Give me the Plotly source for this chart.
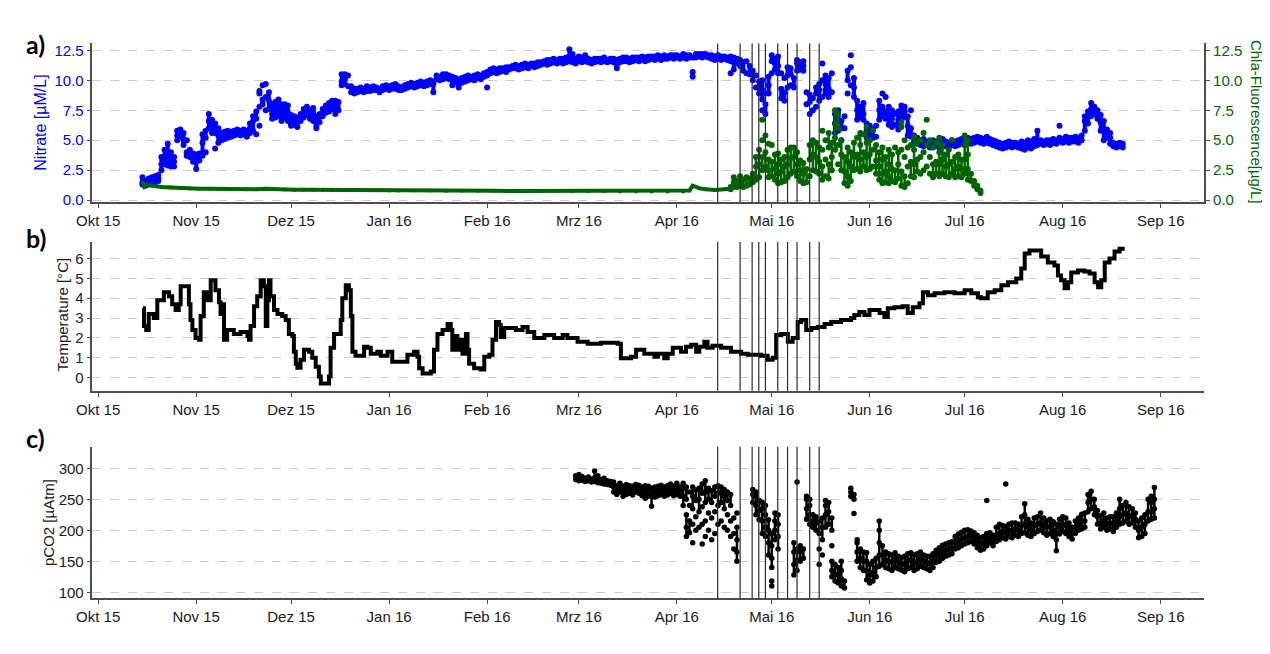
import pandas as pd
import plotly.graph_objects as go

START = pd.Timestamp("2015-10-01")

month_ticks = ["2015-10-01", "2015-11-01", "2015-12-01", "2016-01-01", "2016-02-01", "2016-03-01",
               "2016-04-01", "2016-05-01", "2016-06-01", "2016-07-01", "2016-08-01", "2016-09-01"]
month_labels = ["Okt 15", "Nov 15", "Dez 15", "Jan 16", "Feb 16", "Mrz 16",
                "Apr 16", "Mai 16", "Jun 16", "Jul 16", "Aug 16", "Sep 16"]

# days counted from 2015-10-01; one list of readings per day
nitrate_first_day = 14
nitrate_daily = [
    [1.3, 1.9, 1.5], [1.2, 1.6], [1.3, 1.8], [1.4, 1.9], [1.5, 2.0], [1.6, 2.1, 1.8], [2.5, 3.6, 3.0], [3.0, 4.2, 3.5], [3.5, 4.7, 4.0, 2.9], [3.2, 4.0, 2.8],
    [2.8, 3.6, 3.2], [5.0, 5.8, 5.4], [5.3, 5.9, 5.6], [4.6, 5.6, 5.0], [4.0, 5.0, 3.7], [3.6, 4.2], [3.2, 3.9, 3.5], [3.2, 3.8, 2.6], [3.3, 3.9], [3.9, 4.8, 5.5, 3.7],
    [5.2, 5.8, 4.0], [6.0, 7.2, 6.6], [5.6, 6.7, 6.3], [4.3, 5.6, 6.4], [4.8, 5.4, 6.0], [5.0, 5.6], [5.1, 5.7], [5.2, 5.8], [5.3, 5.7], [5.4, 5.8],
    [5.5, 5.9], [5.4, 5.8], [5.5, 5.9], [5.4, 5.8, 5.3], [5.6, 6.0, 6.4], [6.6, 7.0, 5.8], [6.8, 7.4, 5.5], [7.8, 8.9, 9.1, 6.2], [8.4, 9.6, 8.0], [8.6, 9.7, 7.5],
    [7.6, 8.3, 9.0], [7.2, 8.0, 6.8], [7.4, 8.2, 6.9], [7.0, 7.8, 8.4], [7.2, 8.0, 6.6], [6.9, 7.6, 8.0], [6.6, 7.3, 7.9], [6.4, 7.1, 6.2], [6.3, 7.0], [6.5, 6.9, 6.1],
    [6.6, 7.2], [6.9, 7.6], [7.1, 7.8], [6.8, 7.5], [6.6, 7.3, 7.7], [6.2, 7.0, 6.0], [6.5, 7.2], [7.0, 7.6], [7.3, 7.9], [7.4, 8.1],
    [7.6, 8.3], [7.2, 8.0, 8.3], [7.5, 8.2], [9.6, 10.5, 9.9], [10.1, 10.5, 9.7], [9.5, 10.4], [9.0, 9.5], [8.9, 9.3], [9.0, 9.3], [9.1, 9.4],
    [9.0, 9.3], [9.1, 9.5], [9.1, 9.4], [9.2, 9.5], [9.2, 9.4], [9.0, 9.3], [9.2, 9.5], [9.3, 9.6], [9.2, 9.5], [9.3, 9.6],
    [9.3, 9.7], [9.2, 9.5], [9.2, 9.4], [9.3, 9.6], [9.4, 9.7], [9.5, 9.8], [9.4, 9.7], [9.5, 9.8], [9.6, 9.9], [9.5, 9.8],
    [9.6, 9.9], [9.7, 10.0], [9.0, 9.9, 9.7], [10.1, 10.4], [10.0, 10.3], [10.1, 10.5], [10.2, 10.5], [10.1, 10.4], [10.0, 10.3, 9.6], [9.8, 10.2],
    [9.7, 10.1, 9.4], [9.8, 10.2], [9.9, 10.3], [10.0, 10.4], [10.1, 10.3], [10.0, 10.4], [10.2, 10.5], [10.1, 10.4], [10.3, 10.6], [10.4, 10.7, 9.4],
    [10.6, 10.9], [10.7, 11.0], [10.6, 10.9], [10.7, 11.0], [10.8, 11.0], [10.7, 11.1], [10.9, 11.1], [11.0, 11.2], [11.0, 11.3], [10.9, 11.2],
    [11.0, 11.3], [11.1, 11.4], [11.0, 11.3], [11.2, 11.4], [11.1, 11.4], [11.2, 11.5], [11.3, 11.5], [11.4, 11.6], [11.3, 11.7], [11.4, 11.7],
    [11.5, 11.8], [11.4, 11.7], [11.5, 11.8], [11.4, 11.8], [11.5, 11.9], [11.6, 12.0, 12.6], [11.5, 11.9, 12.2], [11.4, 11.8], [11.6, 12.0], [11.5, 11.9],
    [11.6, 12.1], [11.5, 11.8], [11.4, 11.7], [11.5, 11.8], [11.6, 11.8], [11.5, 11.8], [11.6, 11.9], [11.5, 11.7], [11.6, 11.8], [11.5, 11.8],
    [11.3, 11.7, 11.0], [11.5, 11.8], [11.6, 11.9], [11.6, 11.9], [11.5, 11.8], [11.6, 11.9], [11.7, 11.9], [11.6, 11.9], [11.7, 12.0], [11.6, 11.9],
    [11.7, 12.0], [11.8, 12.0], [11.7, 12.0], [11.8, 12.1], [11.7, 12.0], [11.8, 12.1], [11.8, 12.0], [11.9, 12.1], [11.8, 12.1], [11.9, 12.1],
    [11.8, 12.0], [11.9, 12.2], [11.8, 12.1], [11.9, 12.1], [10.3, 10.7, 11.9], [11.9, 12.2], [12.0, 12.2], [11.9, 12.2], [12.0, 12.2], [11.9, 12.1],
    [11.8, 12.1], [11.7, 12.0], [11.8, 12.1], [11.7, 12.0], [11.8, 12.0], [11.7, 11.9], [11.6, 12.0, 10.6], [11.5, 11.9, 10.9], [11.4, 11.8], [11.2, 11.7],
    [10.8, 11.5], [10.6, 11.6], [10.5, 11.2], [10.0, 10.8], [9.4, 10.4], [8.9, 9.9, 9.5], [7.5, 8.4, 9.2, 10.0], [7.2, 8.0, 8.9], [8.9, 9.6, 10.3], [10.6, 11.6, 12.1],
    [10.9, 11.8, 11.4], [10.6, 11.2, 12.0], [8.5, 9.3, 10.6], [8.3, 9.0, 10.2], [9.4, 10.4, 11.1], [9.6, 10.5, 11.0], [9.4, 10.2], [10.8, 11.4, 11.7], [10.9, 11.5], [10.8, 11.2, 11.6],
    [8.0, 9.0], [7.2, 8.2, 8.8], [7.5, 8.5], [7.8, 8.9, 9.4], [8.3, 9.2, 9.7], [8.6, 10.0, 11.4], [8.9, 9.7, 10.4, 9.2], [8.6, 9.3, 10.2], [9.0, 10.6], [5.6, 6.4, 7.2],
    [5.8, 6.8, 7.5], [5.0, 6.0, 6.6], [6.0, 7.0], [8.9, 10.0, 10.8], [9.6, 11.1, 12.1], [8.6, 9.4, 10.2], [6.7, 7.5, 8.3], [6.9, 7.8], [6.7, 7.2, 8.1], [5.2, 5.8, 6.4],
    [5.0, 5.6, 6.2], [5.2, 5.9], [5.3, 6.2], [6.7, 7.5, 8.3], [7.0, 7.8, 8.9], [6.8, 7.4, 8.6], [6.3, 7.0, 7.8], [6.1, 6.8, 7.5], [6.3, 7.2], [5.9, 6.7, 7.4],
    [7.0, 7.6, 7.9], [6.9, 7.4, 7.8], [5.4, 6.2, 7.0], [5.3, 6.0, 7.5], [4.9, 5.4], [4.7, 5.2], [4.6, 5.0], [4.5, 5.1], [4.6, 4.9], [4.4, 4.8],
    [4.6, 5.0], [4.5, 4.9], [4.4, 4.8], [4.6, 5.1], [4.5, 4.9], [4.4, 4.8], [4.6, 5.0], [4.5, 4.9], [4.6, 5.0], [4.7, 5.1],
    [4.6, 5.0], [4.8, 5.2], [4.7, 5.1], [4.8, 5.2], [4.9, 5.3], [4.8, 5.2], [4.7, 5.1], [4.8, 5.3], [4.7, 5.1], [4.6, 5.0],
    [4.5, 4.9], [4.4, 4.8], [4.3, 4.7], [4.4, 4.8], [4.5, 4.9], [4.4, 4.8], [4.5, 4.8], [4.4, 4.7], [4.3, 4.9], [4.2, 4.8],
    [4.4, 5.0], [4.3, 4.9], [4.5, 5.1], [4.6, 5.0, 5.8], [4.7, 5.0], [4.6, 4.9], [4.7, 5.0], [4.6, 5.0], [4.8, 5.1], [4.7, 5.0],
    [4.9, 5.2, 6.2], [4.8, 5.1], [4.9, 5.3], [4.8, 5.2], [4.9, 5.2], [4.9, 5.3], [4.8, 5.2], [5.0, 5.4], [5.8, 6.6, 7.0], [6.4, 7.0, 7.4],
    [7.0, 7.6, 8.1], [7.2, 7.8], [6.8, 7.5, 7.2], [5.8, 6.5, 7.1], [5.0, 5.8, 6.6], [5.2, 5.9], [4.7, 5.2, 5.6], [4.5, 4.8], [4.4, 4.7], [4.5, 4.8],
    [4.4, 4.7],
]

chla_base_day = [14, 14.5, 15, 17, 20, 23, 26, 29, 32, 35, 38, 41, 44, 47, 50, 53, 56, 59, 62, 65, 68, 71, 74, 77,
                 80, 83, 86, 89, 92, 95, 100, 105, 110, 115, 120, 125, 130, 135, 140, 145, 150, 155, 160, 165,
                 170, 175, 180, 185, 187, 188, 190, 192, 195, 198, 200]
chla_base_val = [1.45, 1.15, 1.3, 1.2, 1.1, 1.05, 1.0, 0.98, 0.95, 0.95, 0.93, 0.92, 0.92, 0.9, 0.9, 0.95, 0.9, 0.88,
                 0.87, 0.86, 0.86, 0.85, 0.85, 0.84, 0.83, 0.83, 0.82, 0.82, 0.81, 0.8, 0.8, 0.8, 0.79, 0.79, 0.78,
                 0.78, 0.77, 0.77, 0.76, 0.76, 0.75, 0.74, 0.74, 0.73, 0.72, 0.72, 0.72, 0.73, 0.8, 1.2, 1.0, 0.9,
                 0.85, 0.9, 0.95]

chla_first_day = 200
chla_daily = [
    [0.9, 1.1], [1.1, 1.9, 1.5], [1.1, 1.6], [1.2, 2.0, 1.5], [1.1, 1.7], [1.2, 1.9], [1.3, 1.8], [1.5, 2.2, 1.8], [1.7, 2.8, 3.6], [1.9, 3.0, 4.2],
    [2.5, 3.6, 5.0, 6.7], [2.8, 4.0, 5.4], [2.5, 3.4, 4.7, 1.9], [2.0, 3.2, 4.6], [1.7, 2.6, 3.8], [1.4, 2.2, 3.0, 3.9], [1.5, 2.4, 3.4], [1.6, 2.8, 3.6], [1.9, 3.0, 4.2], [2.2, 3.5, 4.4],
    [2.4, 3.6, 4.4], [2.0, 3.0, 4.0], [1.6, 2.5, 3.3], [1.4, 2.2, 3.1], [1.5, 2.6], [2.0, 3.4, 4.6], [2.5, 3.8, 5.0], [2.4, 3.6, 4.8], [2.2, 3.2, 4.4], [1.7, 2.8, 4.2, 5.8],
    [2.0, 3.4, 5.0], [1.8, 3.0, 4.4, 5.6], [2.5, 3.6, 4.8], [4.2, 5.2, 6.4, 7.5], [3.0, 4.6, 6.0, 7.2], [2.5, 3.8, 5.0], [1.4, 2.4, 3.6], [1.2, 2.0, 3.2, 4.4], [1.6, 2.8, 4.0], [2.5, 3.6, 4.8],
    [2.6, 3.8, 5.2], [2.4, 3.4, 4.6, 5.6], [2.8, 4.0, 5.5], [2.5, 3.6, 4.8, 6.1], [2.6, 3.8, 5.0], [2.8, 4.2, 5.8], [2.2, 3.3, 4.6], [1.7, 2.8, 4.0], [1.4, 2.2, 3.4, 4.4], [1.5, 2.4, 3.6],
    [1.4, 2.0, 3.0, 4.2], [1.6, 2.6, 3.8], [1.5, 2.5, 4.4], [1.8, 3.0, 4.0], [1.2, 2.4, 4.2, 6.1, 6.5], [1.1, 2.0, 3.6, 5.0], [1.4, 2.8, 4.4], [2.0, 3.2, 4.6], [1.9, 3.0, 4.2, 5.3], [2.4, 3.4, 4.8],
    [2.2, 3.6, 5.0], [2.5, 4.0, 5.6], [2.8, 4.6, 6.7], [2.2, 3.6, 5.0], [1.9, 3.0, 4.4], [2.2, 3.2, 4.8], [2.0, 3.0, 4.0, 5.2], [2.2, 3.4, 4.6], [2.0, 2.8, 3.8], [1.9, 3.0, 4.2],
    [2.2, 3.2, 5.0], [1.9, 2.6, 3.6], [2.0, 2.8, 3.8], [1.9, 2.6, 3.4], [2.2, 3.4, 4.6, 5.4], [1.7, 2.6, 3.8, 5.0], [1.6, 2.2], [1.2, 1.6], [0.9, 1.2], [0.6, 0.8],
]

temp_day = [14.2, 14.5, 15.2, 16.0, 17.6, 18.7, 20.8, 22.4, 23.4, 24.5, 25.5, 26.1, 27.6, 28.7, 29.2, 29.8, 30.8, 31.9,
            32.4, 33.4, 34.5, 35.6, 36.6, 37.1, 38.2, 38.7, 39.2, 39.8, 40.8, 41.9, 42.9, 45.0, 47.2, 47.7, 48.2, 49.3,
            50.3, 51.4, 52.4, 53.0, 53.5, 54.0, 54.5, 55.6, 56.7, 58.2, 59.3, 60.3, 61.4, 61.9, 62.5, 63.0, 64.0, 65.1,
            66.7, 67.7, 68.8, 69.8, 70.4, 72.0, 73.0, 73.5, 74.6, 76.2, 76.7, 77.2, 78.3, 79.3, 79.9, 80.4, 81.4, 83.0,
            84.1, 85.1, 86.2, 88.3, 89.4, 91.5, 93.0, 95.7, 97.8, 99.9, 101.0, 101.5, 102.6, 105.2, 106.2, 107.3, 108.9,
            110.5, 111.5, 112.0, 112.6, 113.6, 114.7, 115.2, 116.3, 116.8, 117.3, 118.9, 121.0, 122.1, 123.7, 124.7,
            125.8, 126.8, 127.3, 128.4, 130.5, 132.1, 134.2, 135.8, 137.9, 141.1, 144.2, 146.9, 148.4, 151.6, 154.8,
            159.0, 164.3, 165.3, 168.5, 170.1, 172.7, 175.9, 177.0, 179.0, 180.1, 181.7, 184.3, 185.9, 187.5, 189.1,
            190.1, 191.7, 192.7, 194.3, 197.0, 200.1, 203.3, 205.4, 209.6, 211.7, 213.3, 214.4, 216.0, 218.1, 219.6,
            221.2, 222.3, 223.9, 225.5, 227.6, 229.7, 231.8, 234.9, 238.1, 239.1, 240.7, 242.3, 243.9, 245.5, 247.1,
            248.6, 249.7, 251.8, 254.4, 256.0, 257.6, 259.7, 260.8, 262.4, 264.5, 267.6, 270.8, 274.0, 276.1, 278.2,
            279.2, 281.3, 283.5, 285.6, 287.7, 290.3, 291.9, 293.0, 294.5, 296.6, 298.2, 300.3, 302.4, 303.5, 304.5,
            305.6, 306.7, 307.7, 309.8, 311.9, 313.5, 315.1, 316.2, 317.2, 318.3, 319.8, 321.4, 323.0, 324.6]
temp_val = [3.5, 2.6, 2.4, 3.2, 3.0, 3.9, 4.3, 4.1, 3.7, 3.4, 3.7, 4.6, 4.6, 3.7, 2.9, 2.4, 2.0, 1.9,
            3.1, 4.3, 3.9, 4.9, 4.9, 4.4, 3.8, 3.2, 3.7, 1.9, 2.4, 2.4, 2.2, 2.3, 2.1, 1.9, 2.6, 3.6,
            4.1, 4.9, 4.6, 2.6, 3.9, 4.9, 4.1, 3.4, 3.2, 3.1, 2.9, 2.2, 2.1, 1.3, 0.7, 0.5, 0.9, 1.4,
            1.3, 1.0, 0.55, 0.05, -0.3, -0.3, 0.05, 1.5, 2.2, 2.2, 2.9, 4.0, 4.65, 4.4, 3.1, 1.3, 1.1, 1.1,
            1.55, 1.5, 1.2, 1.3, 1.1, 1.3, 0.8, 0.8, 1.15, 1.3, 1.05, 0.47, 0.2, 0.3, 1.4, 2.2, 2.4,
            2.7, 2.4, 1.4, 2.1, 1.4, 1.9, 1.2, 2.2, 1.4, 0.7, 0.47, 0.4, 1.05, 1.15, 1.9,
            2.8, 2.65, 2.05, 2.5, 2.5, 2.4, 2.55, 2.3, 2.0, 2.15, 2.0, 2.15, 2.0, 1.8, 1.7,
            1.75, 1.7, 0.97, 1.05, 1.4, 1.2, 1.05, 1.2, 0.97, 1.2, 1.5, 1.3, 1.55, 1.65, 1.3,
            1.55, 1.8, 1.5, 1.6, 1.5, 1.3, 1.2, 1.15, 1.1, 0.9, 1.0, 2.15, 2.2, 1.8, 2.0,
            2.8, 2.9, 2.4, 2.5, 2.55, 2.7, 2.8, 2.9, 3.0, 3.15, 3.3, 3.15, 3.4, 3.4, 3.25,
            3.05, 3.5, 3.55, 3.6, 3.25, 3.55, 3.75, 4.3, 4.15, 4.25, 4.3, 4.25, 4.4, 4.25, 4.05,
            4.0, 4.3, 4.4, 4.65, 4.8, 5.0, 5.5, 6.25, 6.4, 6.4, 6.1, 5.8, 5.65, 5.15, 4.9,
            4.5, 4.8, 5.3, 5.4, 5.35, 5.25, 4.8, 4.55, 4.9, 5.8, 6.0, 6.35, 6.5, 6.5]

pco2_first_day = 151
pco2_daily = [
    [282, 288], [280, 286, 290], [281, 287], [279, 284], [280, 286], [278, 283], [279, 285, 296], [277, 283, 288], [276, 282], [275, 281, 284],
    [274, 280], [273, 279], [270, 278, 262], [265, 272, 258], [262, 270, 276], [255, 264, 271], [258, 268, 274], [260, 266, 272], [257, 265, 271], [262, 268, 274],
    [260, 267, 273], [256, 264, 270], [252, 262, 272], [255, 265, 271], [239, 258, 268], [254, 262, 270], [256, 264, 271], [258, 266, 273], [255, 263, 270], [257, 265, 272],
    [260, 268, 275], [256, 264, 271], [258, 267, 276], [255, 263, 270], [240, 255, 268, 276], [190, 205, 225, 250, 270], [196, 215, 240, 262], [180, 210, 235, 255, 270], [200, 222, 248, 265], [205, 230, 250, 268],
    [178, 210, 238, 260, 275], [190, 215, 245, 262, 280], [200, 228, 250, 268], [185, 220, 245, 264], [195, 230, 255, 270], [210, 240, 260, 272], [215, 245, 262, 270], [205, 235, 255, 266], [200, 225, 248, 262], [190, 215, 240, 258],
    [170, 195, 220], [150, 165, 185, 205, 228], [], [], [], [], [245, 258, 266], [225, 240, 255, 262], [217, 232, 248], [195, 215, 235, 245],
    [190, 205, 225, 240], [160, 180, 200, 217], [140, 155, 175, 195, 110, 118], [185, 200, 215, 228], [170, 190, 210, 225], [], [], [], [], [128, 145, 165, 180],
    [135, 152, 170, 278], [150, 165, 175], [155, 170], [218, 235, 250, 255], [210, 225, 240, 250], [205, 215, 225], [200, 212, 222], [145, 170, 195, 215], [160, 185, 205, 220], [205, 225, 240, 248],
    [210, 230, 245], [125, 135, 150, 175, 200, 220], [118, 130, 145], [115, 128, 140], [110, 122, 135, 150], [107, 118], [], [255, 262, 268], [250, 258, 227], [150, 165, 180, 185],
    [140, 155, 170], [135, 150, 165], [120, 135, 150, 164], [115, 128, 145], [118, 132, 150], [125, 140, 155], [142, 160, 180, 200, 215], [145, 160, 175], [140, 152, 165], [138, 150, 162],
    [135, 148, 160], [140, 152, 164], [138, 148, 158], [136, 146, 156], [133, 145, 158], [138, 150, 162], [140, 152, 164], [135, 147, 160], [138, 150, 162], [142, 154, 165],
    [140, 150, 160], [138, 148, 158], [135, 146, 158], [140, 150, 162], [148, 158, 168], [150, 162, 172], [155, 165, 176], [158, 168, 178], [160, 170, 180], [162, 172, 182],
    [170, 180, 190], [172, 182, 194], [175, 186, 197], [178, 188, 200], [180, 190, 201], [182, 192, 199], [178, 188, 196], [172, 182, 192], [168, 178, 188], [170, 180, 190],
    [175, 185, 195, 248], [180, 188, 196], [175, 184, 192], [182, 192, 205], [185, 195, 210], [188, 198, 208], [186, 196, 206, 275], [190, 200, 210], [188, 198, 212], [192, 202, 212],
    [190, 200, 210], [195, 208, 222], [196, 210, 225, 243], [192, 205, 218], [190, 200, 212], [195, 208, 220], [198, 210, 222], [200, 212, 228], [196, 208, 220], [192, 205, 215],
    [195, 206, 218], [190, 200, 214], [185, 196, 210, 167], [194, 205, 218], [198, 210, 222], [195, 208, 220], [190, 200, 212], [186, 196, 205], [195, 205, 215], [200, 210, 220],
    [202, 214, 226], [205, 215, 228], [230, 245, 258], [235, 250, 263], [225, 238, 250], [210, 222, 232], [202, 212, 224], [205, 215, 228], [200, 210, 220], [202, 212, 222],
    [198, 210, 222], [205, 215, 228], [210, 222, 235, 250], [212, 225, 240], [215, 228, 245], [210, 222, 238], [212, 224, 235], [205, 218, 228], [188, 200, 215], [190, 205, 220],
    [195, 210, 225], [215, 230, 250], [218, 230, 245, 255], [220, 235, 250, 269],
]

# sampling events marked by vertical lines
sample_day = [195.9, 203.0, 206.8, 208.9, 211.0, 214.9, 218.0, 221.0, 225.0, 228.0]


def to_date(day):
    return START + pd.to_timedelta(day, unit="D")


def explode(first_day, daily):
    xs, ys = [], []
    for i, vals in enumerate(daily):
        for v in vals:
            xs.append(to_date(first_day + i))
            ys.append(v)
    return xs, ys


def day_streaks(first_day, daily, max_gap):
    # join neighbouring readings of the same day into a short vertical streak,
    # isolated readings (bigger gap) stay single dots
    xs, ys = [], []
    for i, vals in enumerate(daily):
        d = to_date(first_day + i)
        s = sorted(vals)
        for a, b in zip(s, s[1:]):
            if b - a <= max_gap:
                xs += [d, d, None]
                ys += [a, b, None]
    return xs, ys


BLUE = "#0000ff"
GREEN = "#006400"
AXIS = "#4d4d4d"
FONT = "Liberation Sans, Arial, sans-serif"
W, H = 1270, 654

# the page is shown slightly shifted/scaled; map target screen pixels to paper coords
OX, SX, OY, SY = 23.6, 0.9866, 9.5, 0.9895


def fx(px):
    return max(0.0, (px - OX) / SX) / W


def fy(py):
    return 1 - ((py - OY) / SY) / H


# panel positions in screen pixels (top, bottom)
panels = {"a": (43, 202), "b": (242, 391), "c": (447, 599)}
x_dom = [fx(92), fx(1203)]


def ydom(key):
    top, bot = panels[key]
    return [fy(bot), fy(top)]


fig = go.Figure()

nx, ny = explode(nitrate_first_day, nitrate_daily)
rx, ry = day_streaks(nitrate_first_day, nitrate_daily, 0.9)
fig.add_trace(go.Scatter(x=rx, y=ry, mode="lines", xaxis="x", yaxis="y",
                         line=dict(color=BLUE, width=4), showlegend=False, hoverinfo="skip"))
fig.add_trace(go.Scatter(x=nx, y=ny, mode="markers", xaxis="x", yaxis="y",
                         marker=dict(color=BLUE, size=6), showlegend=False))

fig.add_trace(go.Scatter(x=[to_date(d) for d in chla_base_day], y=chla_base_val, mode="lines+markers",
                         xaxis="x", yaxis="y2", line=dict(color=GREEN, width=4),
                         marker=dict(color=GREEN, size=4), showlegend=False))
cx, cy = explode(chla_first_day, chla_daily)
rx, ry = day_streaks(chla_first_day, chla_daily, 1.3)
fig.add_trace(go.Scatter(x=rx, y=ry, mode="lines", xaxis="x", yaxis="y2",
                         line=dict(color=GREEN, width=2.5), showlegend=False, hoverinfo="skip"))
fig.add_trace(go.Scatter(x=cx, y=cy, mode="markers", xaxis="x", yaxis="y2",
                         marker=dict(color=GREEN, size=6), showlegend=False))

fig.add_trace(go.Scatter(x=[to_date(d) for d in temp_day], y=temp_val, mode="lines", xaxis="x2", yaxis="y3",
                         line=dict(color="black", width=4, shape="hv"), showlegend=False))

px_, py_ = explode(pco2_first_day, pco2_daily)
rx, ry = day_streaks(pco2_first_day, pco2_daily, 21)
fig.add_trace(go.Scatter(x=rx, y=ry, mode="lines", xaxis="x3", yaxis="y4",
                         line=dict(color="black", width=2.5), showlegend=False, hoverinfo="skip"))
fig.add_trace(go.Scatter(x=px_, y=py_, mode="markers", xaxis="x3", yaxis="y4",
                         marker=dict(color="black", size=5.5), showlegend=False))

x_range = [to_date(-1.8), to_date(349.8)]
xcommon = dict(range=x_range, tickvals=month_ticks, ticktext=month_labels, showgrid=False,
               showline=True, linecolor=AXIS, linewidth=1.5, ticks="outside", ticklen=4,
               tickcolor=AXIS, tickfont=dict(family=FONT, size=15, color="#1a1a1a"), domain=x_dom,
               zeroline=False)
ycommon = dict(showgrid=True, gridcolor="#cccccc", griddash="dash", gridwidth=1, showline=True,
               linecolor=AXIS, linewidth=1.5, ticks="outside", ticklen=4, tickcolor=AXIS, zeroline=False)

shapes = []
for key, yref in (("a", "y"), ("b", "y3"), ("c", "y4")):
    xref = {"a": "x", "b": "x2", "c": "x3"}[key]
    for d in sample_day:
        shapes.append(dict(type="line", xref=xref, yref=yref + " domain", x0=to_date(d), x1=to_date(d),
                           y0=0, y1=1, line=dict(color="#2b2b2b", width=1.2)))

annotations = []
for key, label in (("a", "a)"), ("b", "b)"), ("c", "c)")):
    top = {"a": 44, "b": 238, "c": 438}[key]
    annotations.append(dict(text=f"<b>{label}</b>", x=fx(17), y=fy(top), xref="paper", yref="paper",
                            xanchor="left", yanchor="middle", showarrow=False,
                            font=dict(family="Lato, sans-serif", size=25, color="black")))
for text, xp, yp, ang, col, size in (("Nitrate [µM/L]", 40, 122, -90, BLUE, 16),
                                     ("Chla-Fluorescence[µg/L]", 1255, 122, 90, GREEN, 15),
                                     ("Temperature [°C]", 63, 314, -90, "#1a1a1a", 15),
                                     ("pCO2 [µAtm]", 48, 523, -90, "#1a1a1a", 15)):
    annotations.append(dict(text=text, x=fx(xp), y=fy(yp), xref="paper", yref="paper",
                            xanchor="center", yanchor="middle", textangle=ang, showarrow=False,
                            font=dict(family=FONT, size=size, color=col)))

nit_ticks = [0, 2.5, 5, 7.5, 10, 12.5]
fig.update_layout(
    width=W, height=H, autosize=False,
    margin=dict(l=0, r=0, t=0, b=0),
    paper_bgcolor="white", plot_bgcolor="white",
    xaxis=dict(**xcommon, anchor="y"),
    xaxis2=dict(**xcommon, anchor="y3"),
    xaxis3=dict(**xcommon, anchor="y4"),
    yaxis=dict(**ycommon, domain=ydom("a"), anchor="x", range=[-0.17, 13.08], tickvals=nit_ticks,
               tickformat=".1f", tickfont=dict(family=FONT, size=15, color=BLUE)),
    yaxis2=dict(domain=ydom("a"), anchor="x", overlaying="y", side="right", range=[-0.17, 13.08],
                tickvals=nit_ticks, tickformat=".1f", showgrid=False, showline=True, linecolor=AXIS,
                linewidth=1.5, ticks="outside", ticklen=4, tickcolor=AXIS, zeroline=False,
                tickfont=dict(family=FONT, size=15, color=GREEN)),
    yaxis3=dict(**ycommon, domain=ydom("b"), anchor="x2", range=[-0.67, 6.83], tickvals=[0, 1, 2, 3, 4, 5, 6],
                tickfont=dict(family=FONT, size=15, color="#1a1a1a")),
    yaxis4=dict(**ycommon, domain=ydom("c"), anchor="x3", range=[90, 335], tickvals=[100, 150, 200, 250, 300],
                tickfont=dict(family=FONT, size=15, color="#1a1a1a")),
    shapes=shapes,
    annotations=annotations,
)

fig.write_html("out.html")
